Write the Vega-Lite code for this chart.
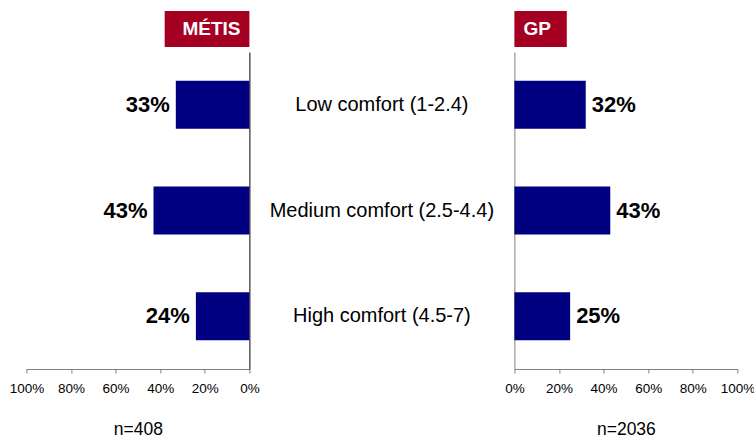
{
  "$schema": "https://vega.github.io/schema/vega-lite/v6.json",
  "padding": {"left": 8.4, "top": 11, "right": 0, "bottom": 0},
  "config": {
    "font": "Liberation Sans",
    "view": {"stroke": null},
    "axis": {"grid": false}
  },
  "data": {
    "values": [
      {"category": "Low comfort (1-2.4)", "metis": 0.33, "gp": 0.32},
      {"category": "Medium comfort (2.5-4.4)", "metis": 0.43, "gp": 0.43},
      {"category": "High comfort (4.5-7)", "metis": 0.24, "gp": 0.25}
    ]
  },
  "columns": 3,
  "bounds": "flush",
  "align": "each",
  "spacing": {"row": 5, "column": 0},
  "concat": [
    {
      "width": 223,
      "height": 36,
      "data": {"values": [{"label": "MÉTIS"}]},
      "layer": [
        {
          "mark": {"type": "rect", "color": "#A50021"},
          "encoding": {
            "x": {"datum": 0, "type": "quantitative", "scale": {"domain": [0, 1], "reverse": true}, "axis": null},
            "x2": {"datum": 0.38},
            "y": {"value": 0},
            "y2": {"value": "height"}
          }
        },
        {
          "mark": {"type": "text", "color": "white", "fontWeight": "bold", "fontSize": 19, "align": "center"},
          "encoding": {
            "x": {"datum": 0.17, "type": "quantitative"},
            "text": {"field": "label"}
          }
        }
      ]
    },
    {
      "width": 265,
      "height": 36,
      "data": {"values": []},
      "mark": "text",
      "encoding": {}
    },
    {
      "width": 223,
      "height": 36,
      "data": {"values": [{"label": "GP"}]},
      "layer": [
        {
          "mark": {"type": "rect", "color": "#A50021"},
          "encoding": {
            "x": {"datum": 0, "type": "quantitative", "scale": {"domain": [0, 1]}, "axis": null},
            "x2": {"datum": 0.235},
            "y": {"value": 0},
            "y2": {"value": "height"}
          }
        },
        {
          "mark": {"type": "text", "color": "white", "fontWeight": "bold", "fontSize": 19, "align": "center"},
          "encoding": {
            "x": {"datum": 0.102, "type": "quantitative"},
            "text": {"field": "label"}
          }
        }
      ]
    },
    {
      "width": 223,
      "height": 317,
      "encoding": {
        "y": {
          "field": "category", "type": "nominal", "sort": null,
          "scale": {"paddingInner": 0.545, "paddingOuter": 0.2725},
          "axis": {"orient": "right", "labels": false, "ticks": false, "title": null, "domainColor": "#000000"}
        },
        "x": {
          "field": "metis", "type": "quantitative",
          "scale": {"domain": [0, 1], "reverse": true},
          "axis": {
            "values": [0, 0.2, 0.4, 0.6, 0.8, 1], "format": ".0%", "labelOverlap": false, "labelFlush": false,
            "labelFontSize": 13.5, "labelColor": "#000000", "tickSize": 4, "labelPadding": 9,
            "domainColor": "#808080", "tickColor": "#808080",
            "title": "n=408", "titleFontSize": 17.5, "titleFontWeight": "normal", "titleColor": "#000000", "titlePadding": 25
          }
        }
      },
      "layer": [
        {"mark": {"type": "bar", "color": "#000080"}},
        {
          "mark": {"type": "text", "align": "right", "dx": -6, "fontWeight": "bold", "fontSize": 22, "color": "#000000"},
          "encoding": {"text": {"field": "metis", "format": ".0%"}}
        }
      ]
    },
    {
      "width": 265,
      "height": 317,
      "mark": {"type": "text", "fontSize": 20, "align": "center", "color": "#000000"},
      "encoding": {
        "y": {
          "field": "category", "type": "nominal", "sort": null,
          "scale": {"paddingInner": 0.545, "paddingOuter": 0.2725},
          "axis": null
        },
        "text": {"field": "category"}
      }
    },
    {
      "width": 223,
      "height": 317,
      "encoding": {
        "y": {
          "field": "category", "type": "nominal", "sort": null,
          "scale": {"paddingInner": 0.545, "paddingOuter": 0.2725},
          "axis": {"orient": "left", "labels": false, "ticks": false, "title": null, "domainColor": "#808080"}
        },
        "x": {
          "field": "gp", "type": "quantitative",
          "scale": {"domain": [0, 1]},
          "axis": {
            "values": [0, 0.2, 0.4, 0.6, 0.8, 1], "format": ".0%", "labelOverlap": false, "labelFlush": false,
            "labelFontSize": 13.5, "labelColor": "#000000", "tickSize": 4, "labelPadding": 9,
            "domainColor": "#808080", "tickColor": "#808080",
            "title": "n=2036", "titleFontSize": 17.5, "titleFontWeight": "normal", "titleColor": "#000000", "titlePadding": 25
          }
        }
      },
      "layer": [
        {"mark": {"type": "bar", "color": "#000080"}},
        {
          "mark": {"type": "text", "align": "left", "dx": 6, "fontWeight": "bold", "fontSize": 22, "color": "#000000"},
          "encoding": {"text": {"field": "gp", "format": ".0%"}}
        }
      ]
    }
  ]
}
